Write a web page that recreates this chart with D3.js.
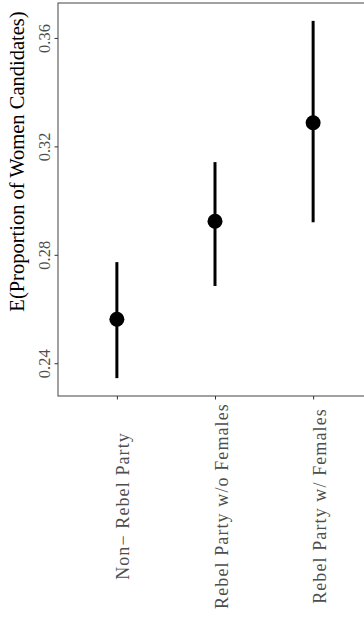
<!DOCTYPE html>
<meta charset="utf-8">
<script src="https://d3js.org/d3.v7.min.js"></script>
<style>
  body { margin: 0; background: #fff; }
  text { font-family: "Liberation Serif", "DejaVu Serif", serif; }
</style>
<div id="chart"></div>

<script>
    const groups = ["Non\u2212 Rebel Party", "Rebel Party w/o Females", "Rebel Party w/ Females"];
    const estimates = [0.2562, 0.2924, 0.3287];
    const lower = [0.2345, 0.2685, 0.2920];
    const upper = [0.2773, 0.3142, 0.3663];
    const yTicks = [0.24, 0.28, 0.32, 0.36];

    const data = groups.map((g, i) => ({group: g, est: estimates[i], lo: lower[i], hi: upper[i]}));

    const width = 364, height = 619;
    const panel = {left: 58, top: 3, right: 372, bottom: 396};

    const svg = d3.select("#chart")
        .append("svg")
        .attr("width", width)
        .attr("height", height);

    // 5% expansion like ggplot
    const lo = d3.min(lower), hi = d3.max(upper);
    const pad = (hi - lo) * 0.05;
    const y = d3.scaleLinear()
        .domain([lo - pad, hi + pad])
        .range([panel.bottom, panel.top]);

    const x = d3.scalePoint()
        .domain(groups)
        .range([panel.left, panel.right])
        .padding(0.6);

    // panel outline (right edge runs off the page)
    svg.append("rect")
        .attr("x", panel.left)
        .attr("y", panel.top)
        .attr("width", panel.right - panel.left)
        .attr("height", panel.bottom - panel.top)
        .attr("fill", "none")
        .attr("stroke", "#555")
        .attr("stroke-width", 1.1);

    // y axis
    const yAxis = svg.append("g")
        .attr("transform", `translate(${panel.left},0)`)
        .call(d3.axisLeft(y).tickValues(yTicks).tickFormat(d3.format(".2f")).tickSize(3.5));
    yAxis.select(".domain").remove();
    yAxis.selectAll(".tick line").attr("stroke", "#333");
    yAxis.selectAll(".tick text")
        .attr("transform", "rotate(-90)")
        .attr("x", 0)
        .attr("y", -8)
        .attr("dy", 0)
        .attr("text-anchor", "middle")
        .attr("fill", "#4d4d4d")
        .style("font-size", "16.5px");

    // x axis
    const xAxis = svg.append("g")
        .attr("transform", `translate(0,${panel.bottom})`)
        .call(d3.axisBottom(x).tickSize(3.5));
    xAxis.select(".domain").remove();
    xAxis.selectAll(".tick line").attr("stroke", "#333");
    xAxis.selectAll(".tick text")
        .attr("transform", "rotate(-90)")
        .attr("x", -110)
        .attr("y", 12)
        .attr("dy", 0)
        .attr("text-anchor", "middle")
        .attr("fill", "#4d4d4d")
        .style("font-size", "18px")
        .style("letter-spacing", "1.1px");

    // y title
    svg.append("text")
        .attr("transform", "translate(24,161.5) rotate(-90)")
        .attr("text-anchor", "middle")
        .style("font-size", "20.5px")
        .attr("fill", "#000")
        .text("E(Proportion of Women Candidates)");

    // error bars
    svg.append("g")
        .selectAll("line")
        .data(data)
        .join("line")
        .attr("x1", d => x(d.group))
        .attr("x2", d => x(d.group))
        .attr("y1", d => y(d.lo))
        .attr("y2", d => y(d.hi))
        .attr("stroke", "#000")
        .attr("stroke-width", 3);

    svg.append("g")
        .selectAll("circle")
        .data(data)
        .join("circle")
        .attr("cx", d => x(d.group))
        .attr("cy", d => y(d.est))
        .attr("r", 7.5)
        .attr("fill", "#000");
</script>
